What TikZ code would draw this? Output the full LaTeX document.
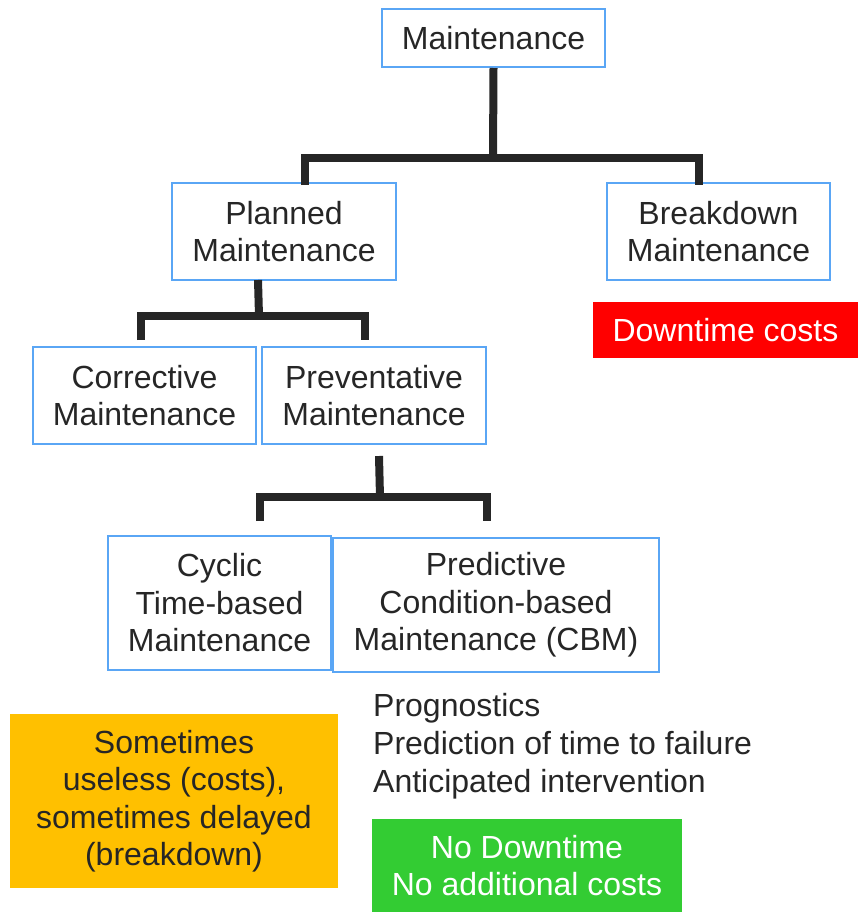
\documentclass[tikz,border=0pt]{standalone}
\usepackage{fontspec}
\setmainfont{Liberation Sans}
\definecolor{mtblue}{HTML}{5AA6F5}
\definecolor{mtink}{HTML}{262626}
\definecolor{mtred}{HTML}{FF0000}
\definecolor{mtamber}{HTML}{FFC000}
\definecolor{mtgreen}{HTML}{33CC33}
\usetikzlibrary{positioning}

\begin{document}
\begin{tikzpicture}[x=1pt,y=-1pt,
  box/.style={draw=mtblue,line width=2pt,align=center,inner sep=0pt,
    text=mtink,font=\fontsize{32}{37.5}\selectfont},
  tag/.style={align=center,inner sep=0pt,font=\fontsize{32}{37.5}\selectfont},
  branch/.style={line width=8pt,mtink,line join=miter}]
  \useasboundingbox (0,0) rectangle (858,913);
  % tree nodes
  \node[box,minimum width=223pt,minimum height=58pt] (maint) at (493.5,38) {Maintenance};
  \node[box,minimum width=224pt,minimum height=97pt] (planned) at (284,231.5) {Planned\\Maintenance};
  \node[box,minimum width=223pt,minimum height=97pt] (breakdown) at (718.5,231.5) {Breakdown\\Maintenance};
  \node[box,minimum width=223pt,minimum height=97pt] (corrective) at (144.5,395.5) {Corrective\\Maintenance};
  \node[box,minimum width=224pt,minimum height=97pt] (preventive) at (374,395.5) {Preventative\\Maintenance};
  \node[box,minimum width=223pt,minimum height=134pt] (cyclic) at (219.5,603) {Cyclic\\Time-based\\Maintenance};
  \node[box,minimum width=326pt,minimum height=134pt] (predictive) at (496,605) {Predictive\\Condition-based\\Maintenance (CBM)};
  % notes
  \node[tag,fill=mtred,text=white,minimum width=265pt,minimum height=56pt] (downtime) at (725.5,330) {Downtime costs};
  \node[tag,fill=mtamber,text=mtink,minimum width=328pt,minimum height=174pt] (useless) at (174,801)
    {Sometimes\\useless (costs),\\sometimes delayed\\(breakdown)};
  \node[tag,align=left,text=mtink,anchor=west,font=\fontsize{32}{38}\selectfont] (prog) at (373,746)
    {Prognostics\\Prediction of time to failure\\Anticipated intervention};
  \node[tag,fill=mtgreen,text=white,minimum width=310pt,minimum height=93pt] (nodown) at (527,865.5)
    {No Downtime\\No additional costs};
  % branches
  \coordinate (j1) at (493,158);
  \coordinate (j2) at (259,316);
  \coordinate (j3) at (380,497);
  \draw[branch] (maint.south) -- (j1);
  \draw[branch] (305,185) -- (305,158) -- (699,158) -- (699,185);
  \draw[branch] (258,280) -- (j2);
  \draw[branch] (141,340) -- (141,316) -- (365,316) -- (365,340);
  \draw[branch] (379,456) -- (j3);
  \draw[branch] (260,521) -- (260,497) -- (487,497) -- (487,521);
\end{tikzpicture}
\end{document}
